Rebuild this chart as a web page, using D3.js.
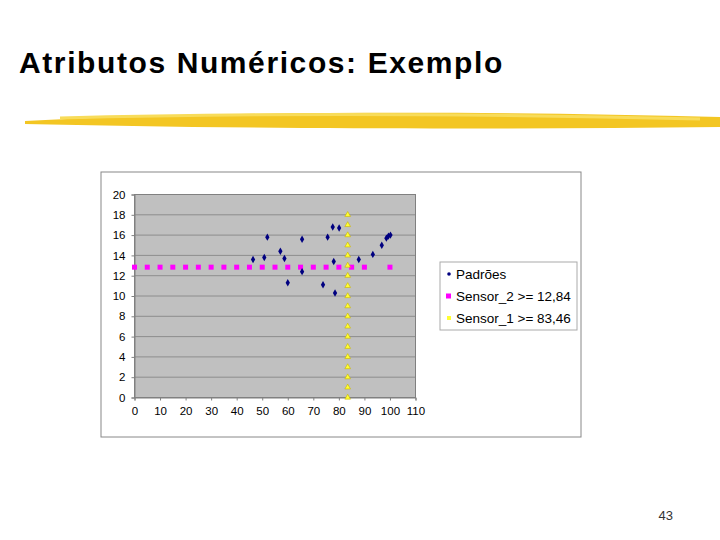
<!DOCTYPE html>
<html><head><meta charset="utf-8">
<script src="https://cdn.jsdelivr.net/npm/d3@7"></script>
<style>body{margin:0;background:#fff}svg{display:block}</style></head>
<body><svg id="c" width="720" height="540"></svg>
<script>
const padroesX=[46.4,50.8,52.0,57.1,58.7,60.0,65.6,65.6,73.8,75.6,77.6,78.0,78.5,80.1,87.8,93.3,96.8,98.6,99.4,100.2];
const padroesY=[13.6,13.8,15.8,14.4,13.7,11.3,15.6,12.4,11.1,15.8,16.8,13.4,10.3,16.7,13.6,14.1,15.0,15.7,15.9,16.0];
const sensor2X=[0,5,10,15,20,25,30,35,40,45,50,55,60,65,70,75,80,85,90,100];
const sensor2Value=12.84;
const sensor1Y=[0,1,2,3,4,5,6,7,8,9,10,11,12,13,14,15,16,17,18];
const sensor1Value=83.46;
const xTicks=[0,10,20,30,40,50,60,70,80,90,100,110];
const yTicks=[0,2,4,6,8,10,12,14,16,18,20];
const legendLabels=["Padrões","Sensor_2 >= 12,84","Sensor_1 >= 83,46"];

const svg=d3.select("#c");
svg.append("text").attr("x",19).attr("y",73).attr("font-family","Liberation Sans, Arial").attr("font-weight","bold").attr("font-size",30).attr("letter-spacing",1.6).text("Atributos Numéricos: Exemplo");
const g0=svg.append("g");
g0.append("path").attr("d","M25,121 C200,112 450,110 720,117 L720,127 C450,130 200,128 25,124 Z").attr("fill","#f3c623");
g0.append("path").attr("d","M60,118 C250,113 450,113 700,119").attr("stroke","#f8dc5a").attr("stroke-width",3).attr("fill","none");
svg.append("text").attr("x",673).attr("y",520).attr("text-anchor","end").attr("font-family","Liberation Sans, Arial").attr("font-size",13).attr("fill","#333").text("43");

svg.append("rect").attr("x",101).attr("y",172).attr("width",480).attr("height",265).attr("fill","#fff").attr("stroke","#888");
const x=d3.scaleLinear().domain([0,110]).range([134.5,415.5]);
const y=d3.scaleLinear().domain([0,20]).range([397.5,194.5]);
svg.append("rect").attr("x",134.5).attr("y",194.5).attr("width",281).attr("height",203).attr("fill","#c0c0c0").attr("stroke","#808080");
svg.append("g").selectAll("line").data(yTicks.slice(1,-1)).join("line").attr("x1",134.5).attr("x2",415.5).attr("y1",d=>y(d)).attr("y2",d=>y(d)).attr("stroke","#808080").attr("stroke-width",0.8);
const xa=svg.append("g").attr("transform","translate(0,397.5)").call(d3.axisBottom(x).tickValues(xTicks).tickSize(3).tickPadding(6));
const ya=svg.append("g").attr("transform","translate(134.5,0)").call(d3.axisLeft(y).tickValues(yTicks).tickSize(3).tickPadding(6));
[xa,ya].forEach(a=>{a.selectAll("text").attr("font-family","Liberation Sans, Arial").attr("font-size",11.5).attr("fill","#000");a.select(".domain").attr("stroke","#808080");a.selectAll(".tick line").attr("stroke","#808080");});

svg.append("g").selectAll("rect").data(sensor2X).join("rect").attr("x",d=>x(d)-2.5).attr("y",y(sensor2Value)-2.5).attr("width",5).attr("height",5).attr("fill","#ff00ff");
const tri=d3.symbol().type(d3.symbolTriangle).size(14);
svg.append("g").selectAll("path").data(sensor1Y).join("path").attr("d",tri).attr("transform",d=>`translate(${x(sensor1Value)},${y(d)})`).attr("fill","#ffff33").attr("stroke","#c8b400").attr("stroke-width",0.6);
const dia=d3.symbol().type(d3.symbolDiamond).size(16);
svg.append("g").selectAll("path").data(padroesX).join("path").attr("d",dia).attr("transform",(d,i)=>`translate(${x(d)},${y(padroesY[i])})`).attr("fill","#000080");

const lg=svg.append("g");
lg.append("rect").attr("x",440).attr("y",262).attr("width",137).attr("height",68).attr("fill","#fff").attr("stroke","#aaa");
const colors=["#000080","#ff00ff","#ffff33"];
legendLabels.forEach((t,i)=>{
  const yy=274+i*22;
  if(i==0) lg.append("circle").attr("cx",449).attr("cy",yy).attr("r",1.8).attr("fill",colors[i]);
  else lg.append("rect").attr("x",i==1?446:447).attr("y",yy-(i==1?2.5:2)).attr("width",i==1?5:4).attr("height",i==1?5:4).attr("fill",colors[i]);
  lg.append("text").attr("x",456).attr("y",yy+4.5).attr("font-family","Liberation Sans, Arial").attr("font-size",13.5).text(t);
});
</script></body></html>
